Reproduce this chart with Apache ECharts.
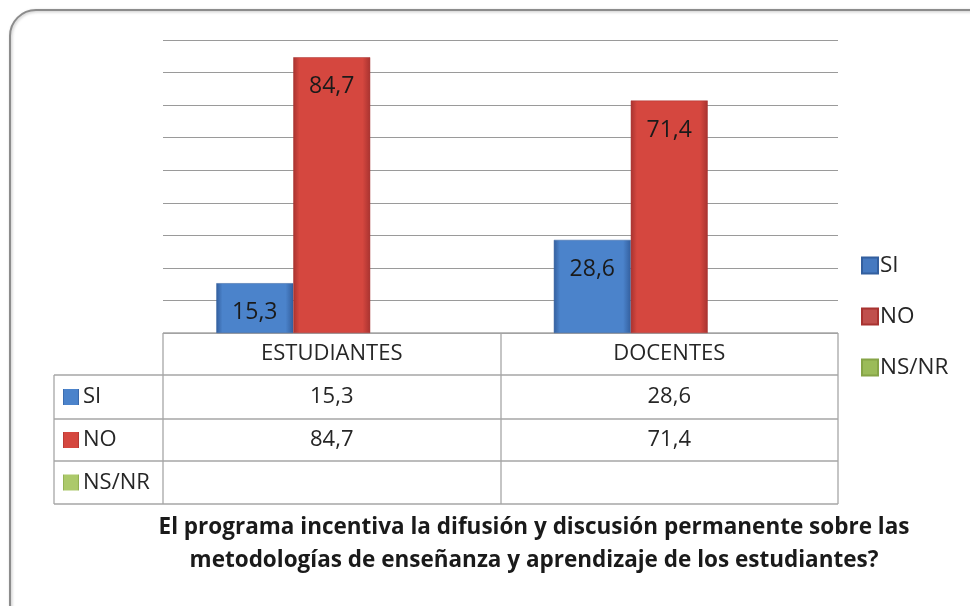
<!DOCTYPE html>
<html>
<head>
<meta charset="utf-8">
<script src="https://cdn.jsdelivr.net/npm/echarts@6/dist/echarts.min.js"></script>
<style>html,body{margin:0;padding:0;background:#fff;}#c{width:970px;height:606px;}</style>
</head>
<body>
<div id="c"></div>
<script>
const categories = ['ESTUDIANTES', 'DOCENTES'];
const seriesNames = ['SI', 'NO', 'NS/NR'];
const siValues = [15.3, 28.6];
const noValues = [84.7, 71.4];
const nsnrValues = [null, null];
const titleLines = ['El programa incentiva la difusión y discusión permanente sobre las',
                    'metodologías de enseñanza y aprendizaje de los estudiantes?'];

const FONT = '"Open Sans", "Noto Sans", sans-serif';
const colors = ['#4579c0', '#c0504d', '#9bbb59'];
const grads = [
  ['#4b83cb', '#335f9e'],
  ['#d5473f', '#a83330'],
  ['#acc96a', '#86a447']
];
const fmt = v => (v == null ? '' : String(v).replace('.', ','));

function barColor(i) {
  return new echarts.graphic.LinearGradient(0, 0, 1, 0, [
    {offset: 0, color: grads[i][1]},
    {offset: 0.08, color: grads[i][0]},
    {offset: 0.9, color: grads[i][0]},
    {offset: 1, color: grads[i][1]}
  ]);
}

const allValues = [siValues, noValues, nsnrValues];
const chart = echarts.init(document.getElementById('c'));

const series = seriesNames.map((name, i) => ({
  name: name,
  type: 'bar',
  data: allValues[i],
  barGap: '0%',
  barCategoryGap: '31.6%',
  itemStyle: {color: barColor(i), borderColor: grads[i][1], borderWidth: 0.5},
  label: {
    show: true, position: 'insideTop', distance: 18,
    formatter: p => fmt(p.value),
    fontFamily: FONT, fontSize: 23, color: '#1a1a1a'
  }
}));

chart.setOption({
  animation: false,
  backgroundColor: '#fff',
  grid: {left: 163, right: 132, top: 40, bottom: 273},
  xAxis: {
    type: 'category', data: categories,
    axisLine: {show: false}, axisTick: {show: false}, axisLabel: {show: false}
  },
  yAxis: {
    type: 'value', min: 0, max: 90, interval: 10,
    axisLine: {show: false}, axisTick: {show: false}, axisLabel: {show: false},
    splitLine: {lineStyle: {color: '#9a9a9a', width: 1.2}}
  },
  legend: {
    orient: 'vertical', left: 856, top: 249, itemGap: 28,
    itemWidth: 16, itemHeight: 16, icon: 'rect',
    data: seriesNames.map((n, i) => ({name: n, itemStyle: {color: colors[i]}})),
    textStyle: {fontFamily: FONT, fontSize: 22.5, color: '#262626', padding: [0, 0, 0, -3]}
  },
  series: series
});

// Build data table under the plot, aligned with the category axis
const x0 = chart.convertToPixel({xAxisIndex: 0}, 0);
const x1 = chart.convertToPixel({xAxisIndex: 0}, 1);
const catW = x1 - x0;
const leftX = Math.round(x0 - catW / 2);
const midX = Math.round(x0 + catW / 2);
const rightX = Math.round(x1 + catW / 2);
const yBase = Math.round(chart.convertToPixel({yAxisIndex: 0}, 0));
const rowY = [yBase, yBase + 42, yBase + 86, yBase + 128, yBase + 171];
const labelX = 54;
const lineStyle = {stroke: '#a6a6a6', lineWidth: 1.3};
const g = [];

function hline(x1_, x2_, y) { g.push({type: 'line', shape: {x1: x1_, y1: y, x2: x2_, y2: y}, style: lineStyle, silent: true}); }
function vline(x, y1, y2) { g.push({type: 'line', shape: {x1: x, y1: y1, x2: x, y2: y2}, style: lineStyle, silent: true}); }

hline(leftX, rightX, rowY[0]);
for (let r = 1; r < rowY.length; r++) hline(labelX, rightX, rowY[r]);
vline(labelX, rowY[1], rowY[4]);
vline(leftX, rowY[0], rowY[4]);
vline(midX, rowY[0], rowY[4]);
vline(rightX, rowY[0], rowY[4]);

const textBase = {fontFamily: FONT, fontSize: 22, fill: '#262626'};
categories.forEach((c, j) => {
  const cx = chart.convertToPixel({xAxisIndex: 0}, j);
  g.push({type: 'text', x: cx, y: (rowY[0] + rowY[1]) / 2,
    style: Object.assign({text: c, align: 'center', verticalAlign: 'middle'}, textBase), silent: true});
});
seriesNames.forEach((n, i) => {
  const cy = (rowY[i + 1] + rowY[i + 2]) / 2;
  g.push({type: 'rect', shape: {x: 63, y: cy - 8, width: 16, height: 16},
    style: {fill: barColor(i)}, silent: true});
  g.push({type: 'text', x: 83, y: cy,
    style: Object.assign({text: n, align: 'left', verticalAlign: 'middle'}, textBase), silent: true});
  categories.forEach((c, j) => {
    const cx = chart.convertToPixel({xAxisIndex: 0}, j);
    g.push({type: 'text', x: cx, y: cy,
      style: Object.assign({text: fmt(allValues[i][j]), align: 'center', verticalAlign: 'middle'}, textBase), silent: true});
  });
});

// Title lines
titleLines.forEach((t, k) => {
  g.push({type: 'text', x: 534, y: 528 + k * 33,
    style: {text: t, align: 'center', verticalAlign: 'middle', fontFamily: FONT, fontSize: 22.5, fontWeight: 'bold', fill: '#1a1a1a'}, silent: true});
});

// Rounded frame
g.push({type: 'rect', shape: {x: 10, y: 10, width: 990, height: 620, r: 26},
  style: {fill: 'none', stroke: '#8c8c8c', lineWidth: 2, shadowBlur: 3, shadowColor: 'rgba(0,0,0,0.25)', shadowOffsetX: 1, shadowOffsetY: 1},
  silent: true, z: -1});

chart.setOption({graphic: {elements: g}});
</script>
</body>
</html>
